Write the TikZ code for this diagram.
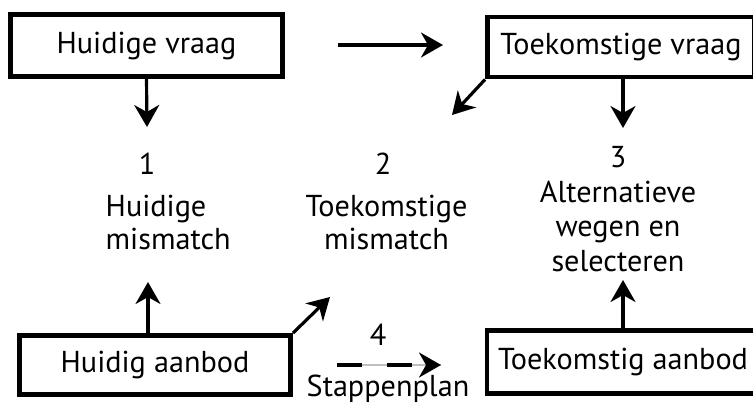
\documentclass[tikz,border=0pt]{standalone}
\usepackage{fontspec}
\setmainfont{PT Sans}
\usetikzlibrary{arrows.meta}

\begin{document}
\begin{tikzpicture}[
  font=\fontsize{8.6}{9.5}\selectfont,
  box/.style={draw, line width=1.4pt, inner sep=0pt},
  arr/.style={-{Stealth[length=2.2mm, width=2.5mm, inset=0.7mm]}, line width=0.9pt},
  lbl/.style={align=center, inner sep=0pt}
]
\useasboundingbox (0,0) rectangle (7.53,-4.03);

% vraag
\node [box, minimum width=2.72cm, minimum height=0.62cm] (hv) at (1.465,-0.455) {Huidige vraag};
\node [box, minimum width=2.67cm, minimum height=0.60cm] (tv) at (6.21,-0.47) {Toekomstige vraag};

% aanbod
\node [box, minimum width=2.71cm, minimum height=0.59cm] (ha) at (1.55,-3.65) {Huidig aanbod};
\node [box, minimum width=2.72cm, minimum height=0.63cm] (ta) at (6.23,-3.62) {Toekomstig aanbod};

% stappen
\node [lbl] (num1) at (1.47,-1.64) {1};
\node [lbl, align=left, anchor=west] (mis1) at (1.05,-2.225) {Huidige\\mismatch};
\node [lbl] (num2) at (3.83,-1.635) {2};
\node [lbl] (mis2) at (3.865,-2.225) {Toekomstige\\mismatch};
\node [lbl, font=\fontsize{8.6}{9.9}\selectfont] (alt3) at (6.18,-2.09) {3\\Alternatieve\\wegen en\\selecteren};
\node [lbl] (num4) at (3.78,-3.35) {4};
\node [lbl] (stap) at (3.88,-3.885) {Stappenplan};

% vrije eindpunten
\coordinate (a1) at (3.38,-0.45);
\coordinate (a2) at (4.43,-0.45);
\coordinate (t1) at (1.47,-1.27);
\coordinate (t2) at (4.52,-1.15);
\coordinate (t3) at (6.23,-1.28);
\coordinate (b1) at (1.48,-2.82);
\coordinate (b2) at (3.30,-2.97);
\coordinate (b3) at (6.23,-2.80);
\coordinate (d1) at (3.37,-3.65);
\coordinate (d2) at (4.41,-3.65);

\draw [arr] (a1) -- (a2);
\draw [arr] (hv.south) -- (t1);
\draw [arr] (tv.south west) -- (t2);
\draw [arr] (tv.south -| t3) -- (t3);
\draw [arr] (ha.north -| b1) -- (b1);
\draw [arr] (ha.north east) -- (b2);
\draw [arr] (ta.north -| b3) -- (b3);

\draw [gray!50, line width=0.3pt] (d1) -- (d2);
\draw [arr, dash pattern=on 0.25cm off 0.25cm] (d1) -- (d2);

\end{tikzpicture}
\end{document}
